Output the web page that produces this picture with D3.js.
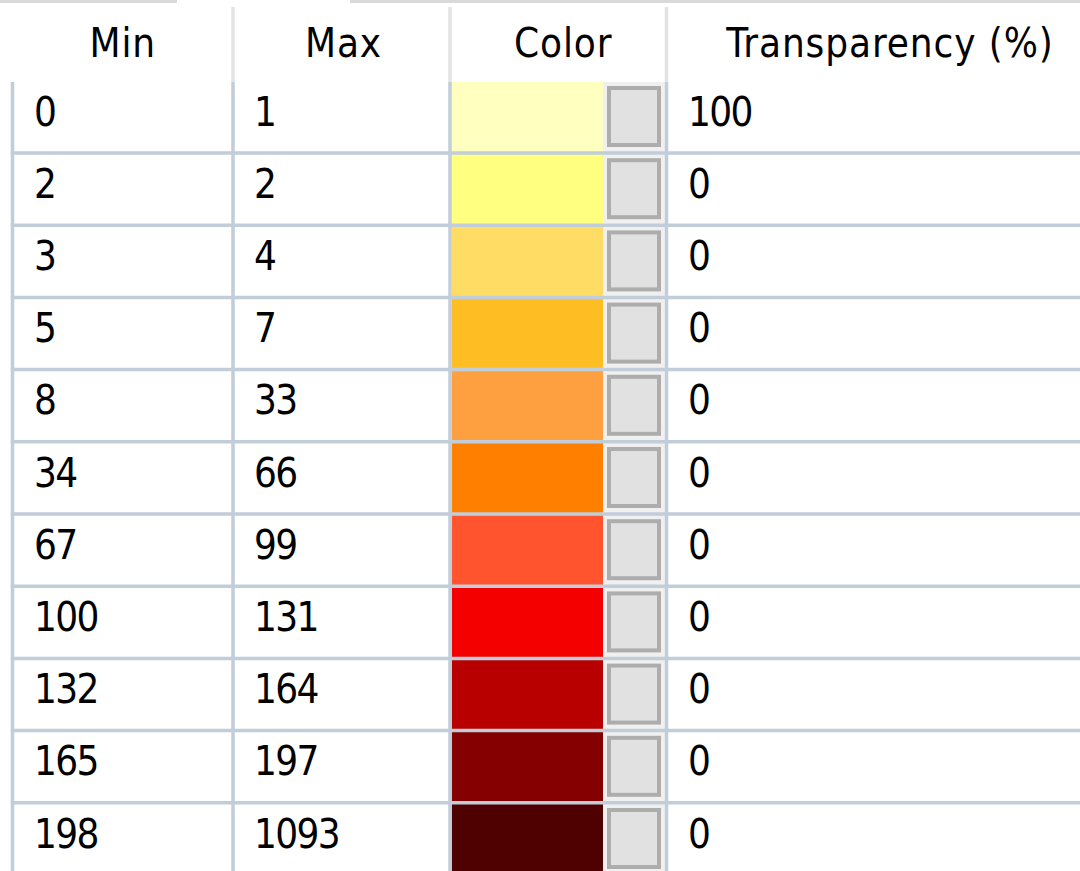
<!DOCTYPE html>
<html>
<head>
<meta charset="utf-8">
<script src="https://cdn.jsdelivr.net/npm/d3@7"></script>
<style>
  body { margin: 0; background: #fff; }
  svg { display: block; }
  text { font-family: "DejaVu Sans Condensed", "DejaVu Sans", sans-serif; font-stretch: condensed; font-size: 40px; fill: #000; }
  .head { letter-spacing: 0.9px; }
  .cell { letter-spacing: -1.6px; }
</style>
</head>
<body>
<script>
const headers = ['Min', 'Max', 'Color', 'Transparency (%)'];
const minValues = [0, 2, 3, 5, 8, 34, 67, 100, 132, 165, 198];
const maxValues = [1, 2, 4, 7, 33, 66, 99, 131, 164, 197, 1093];
const colors = ['#ffffbf', '#ffff80', '#ffdc64', '#febe23', '#fe9f40', '#ff8000',
                '#ff542e', '#f40000', '#b80000', '#850000', '#4f0000'];
const transparency = [100, 0, 0, 0, 0, 0, 0, 0, 0, 0, 0];

const W = 1080, H = 871;
const HEADER_TOP = 7, HEADER_BOTTOM = 82;
const GRID = '#c1cdd9', HEAD_GRID = '#e3e3e3';

const rows = minValues.map((d, i) => ({
    min: d, max: maxValues[i], color: colors[i], alpha: transparency[i], i: i
}));

// column edges (line centres), last one runs off the right of the window
const colEdges = [12.5, 233, 450, 666.5, 1113.5];
const y = d3.scaleLinear()
    .domain([0, rows.length])
    .range([HEADER_BOTTOM, HEADER_BOTTOM + 72.2 * rows.length]);

const svg = d3.select('body').append('svg')
    .attr('width', W)
    .attr('height', H);

// grey strip along the top (tab edge)
svg.append('rect').attr('x', 0).attr('y', 0).attr('width', 177).attr('height', 3).attr('fill', '#d9d9d9');
svg.append('rect').attr('x', 350).attr('y', 0).attr('width', W - 350).attr('height', 3).attr('fill', '#d9d9d9');

// header labels
svg.selectAll('.head')
    .data(headers)
    .enter().append('text')
    .attr('class', 'head')
    .attr('x', (d, i) => (colEdges[i] + colEdges[i + 1]) / 2 + (i === 1 ? 2 : i === 2 ? 5 : 0))
    .attr('y', 57)
    .attr('text-anchor', 'middle')
    .text(d => d);

// header separators
svg.selectAll('.hsep')
    .data(colEdges.slice(1, 4))
    .enter().append('line')
    .attr('x1', d => d).attr('x2', d => d)
    .attr('y1', HEADER_TOP).attr('y2', HEADER_BOTTOM)
    .attr('stroke', HEAD_GRID)
    .attr('stroke-width', 3.5);

const row = svg.selectAll('.row')
    .data(rows)
    .enter().append('g')
    .attr('class', 'row')
    .attr('transform', d => `translate(0,${y(d.i)})`);

const rowH = y(1) - y(0);

// colour swatch
row.append('rect')
    .attr('x', colEdges[2] + 1.75)
    .attr('y', 0)
    .attr('width', 603 - colEdges[2] - 1.75)
    .attr('height', rowH)
    .attr('fill', d => d.color);

// picker button
row.append('rect')
    .attr('x', 603)
    .attr('y', 0)
    .attr('width', colEdges[3] - 1.75 - 603)
    .attr('height', rowH)
    .attr('fill', '#f0f0f0');
row.append('rect')
    .attr('x', 609)
    .attr('y', 6)
    .attr('width', 50)
    .attr('height', 57)
    .attr('fill', '#e1e1e1')
    .attr('stroke', '#adadad')
    .attr('stroke-width', 4);

row.append('text')
    .attr('class', 'cell')
    .attr('x', colEdges[0] + 21.5)
    .attr('y', 43.5)
    .text(d => d.min);
row.append('text')
    .attr('class', 'cell')
    .attr('x', colEdges[1] + 21)
    .attr('y', 43.5)
    .text(d => d.max);
row.append('text')
    .attr('class', 'cell')
    .attr('x', colEdges[3] + 21.5)
    .attr('y', 43.5)
    .text(d => d.alpha);

// horizontal grid lines under each row
svg.selectAll('.hline')
    .data(rows.slice(0, rows.length - 1))
    .enter().append('line')
    .attr('x1', colEdges[0] - 1.75).attr('x2', W)
    .attr('y1', d => y(d.i + 1) - 1.2).attr('y2', d => y(d.i + 1) - 1.2)
    .attr('stroke', GRID)
    .attr('stroke-width', 3.5);

// vertical grid lines
svg.selectAll('.vline')
    .data(colEdges.slice(0, 4))
    .enter().append('line')
    .attr('x1', d => d).attr('x2', d => d)
    .attr('y1', HEADER_BOTTOM).attr('y2', H)
    .attr('stroke', GRID)
    .attr('stroke-width', 3.5);
</script>
</body>
</html>
